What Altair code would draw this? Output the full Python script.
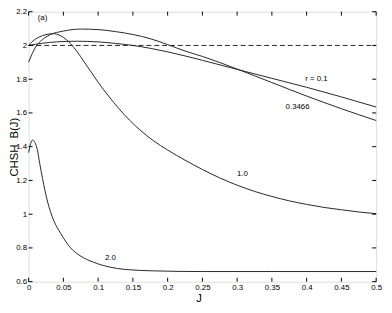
import altair as alt
import pandas as pd

# ---- data ----
J_r01 = [0, 0.02, 0.04, 0.07, 0.1, 0.125, 0.15, 0.175, 0.2, 0.25, 0.3, 0.35, 0.4, 0.45, 0.5]
B_r01 = [2.0, 2.013, 2.021, 2.025, 2.021, 2.012, 2.0, 1.983, 1.962, 1.912, 1.858, 1.805, 1.752, 1.695, 1.635]

J_r03466 = [0, 0.005, 0.01, 0.02, 0.03, 0.05, 0.075, 0.1, 0.125, 0.15, 0.175, 0.2, 0.225, 0.25,
            0.3, 0.35, 0.4, 0.45, 0.5]
B_r03466 = [1.9, 1.95, 1.99, 2.035, 2.062, 2.085, 2.097, 2.094, 2.082, 2.065, 2.04, 2.005, 1.967, 1.935,
            1.86, 1.78, 1.70, 1.625, 1.555]

J_r1 = [0, 0.005, 0.01, 0.02, 0.03, 0.035, 0.04, 0.05, 0.06, 0.07, 0.08, 0.09, 0.1, 0.115, 0.13,
        0.145, 0.16, 0.18, 0.2, 0.225, 0.25, 0.275, 0.3, 0.325, 0.35, 0.375, 0.4, 0.425, 0.45, 0.475, 0.5]
B_r1 = [2.0, 2.022, 2.038, 2.058, 2.068, 2.07, 2.067, 2.048, 2.012, 1.962, 1.902, 1.842, 1.782, 1.7, 1.625,
        1.558, 1.5, 1.434, 1.38, 1.32, 1.265, 1.215, 1.172, 1.135, 1.105, 1.079, 1.058, 1.04, 1.026, 1.013, 1.003]

J_r2 = [0, 0.003, 0.006, 0.009, 0.0125, 0.016, 0.02, 0.027, 0.036, 0.046, 0.06, 0.074, 0.093,
        0.116, 0.14, 0.18, 0.25, 0.35, 0.5]
B_r2 = [1.365, 1.42, 1.44, 1.425, 1.383, 1.3, 1.211, 1.078, 0.964, 0.887, 0.802, 0.754, 0.716,
        0.687, 0.672, 0.664, 0.66, 0.66, 0.66]

ref_J = [0, 0.5]
ref_B = [2.0, 2.0]

x_ticks = [0, 0.05, 0.1, 0.15, 0.2, 0.25, 0.3, 0.35, 0.4, 0.45, 0.5]
y_ticks = [0.6, 0.8, 1.0, 1.2, 1.4, 1.6, 1.8, 2.0, 2.2]

label_text = ["r = 0.1", "0.3466", "1.0", "2.0", "(a)"]
label_J = [0.414, 0.387, 0.3075, 0.1177, 0.02]
label_B = [1.803, 1.636, 1.239, 0.742, 2.165]

# ---- build tables ----
rows = []
for name, js, bs in [("0.1", J_r01, B_r01), ("0.3466", J_r03466, B_r03466),
                     ("1.0", J_r1, B_r1), ("2.0", J_r2, B_r2)]:
    for j, b in zip(js, bs):
        rows.append({"series": name, "J": j, "B": b})
curves = pd.DataFrame(rows)
ref = pd.DataFrame({"J": ref_J, "B": ref_B})
labels = pd.DataFrame({"text": label_text, "J": label_J, "B": label_B})
xt = pd.DataFrame({"J": x_ticks})
yt = pd.DataFrame({"B": y_ticks})

W, H = 354, 275
FONT = "Liberation Sans"
TL = 4

xs = alt.Scale(domain=[0, 0.5], nice=False, zero=False)
ys = alt.Scale(domain=[0.6, 2.2], nice=False, zero=False)

x_axis = alt.Axis(values=x_ticks, format="~g", ticks=False, domain=False, grid=False,
                  labelOverlap=False, labelFlush=False,
                  labelFont=FONT, labelFontSize=8, labelColor="black", labelPadding=2,
                  title="J", titleFont=FONT, titleFontSize=11.5, titleFontWeight="normal",
                  titleColor="black", titleX=173, titleY=20.5, titleBaseline="alphabetic")
y_axis = alt.Axis(values=y_ticks, format="~g", ticks=False, domain=False, grid=False,
                  labelOverlap=False, labelFlush=False,
                  labelFont=FONT, labelFontSize=8, labelColor="black", labelPadding=2,
                  title="CHSH\u00a0 B(J)", titleFont=FONT, titleFontSize=11.5,
                  titleFontWeight="normal", titleColor="black", titleAngle=270,
                  titleX=-11, titleY=H / 2, titleBaseline="alphabetic", titleAlign="center")


def X():
    return alt.X("J:Q", scale=xs, axis=x_axis)


def Y():
    return alt.Y("B:Q", scale=ys, axis=y_axis)


lines = alt.Chart(curves).mark_line(color="#262626", strokeWidth=1, interpolate="monotone").encode(
    x=X(), y=Y(), detail="series:N",
)

dashed = alt.Chart(ref).mark_line(color="#262626", strokeWidth=1, strokeDash=[5, 3]).encode(
    x=X(), y=Y()
)

texts = alt.Chart(labels).mark_text(font=FONT, fontSize=8, color="black").encode(
    x=X(), y=Y(), text="text:N"
)

bt = alt.Chart(xt).mark_rule(color="black", strokeWidth=1).encode(
    x=X(), y=alt.value(H), y2=alt.value(H - TL))
tt = alt.Chart(xt).mark_rule(color="black", strokeWidth=1).encode(
    x=X(), y=alt.value(0), y2=alt.value(TL))
lt = alt.Chart(yt).mark_rule(color="black", strokeWidth=1).encode(
    y=Y(), x=alt.value(0), x2=alt.value(TL))
rt = alt.Chart(yt).mark_rule(color="black", strokeWidth=1).encode(
    y=Y(), x=alt.value(W), x2=alt.value(W - TL))

chart = alt.layer(lines, dashed, texts, bt, tt, lt, rt).properties(
    width=W, height=H,
    autosize=alt.AutoSizeParams(type="none"),
    padding={"left": 21, "top": 1, "right": 8, "bottom": 21},
).configure_view(stroke="black", strokeWidth=1).configure(background="white")

chart.save("out.html", embed_options={"renderer": "svg", "actions": False})
